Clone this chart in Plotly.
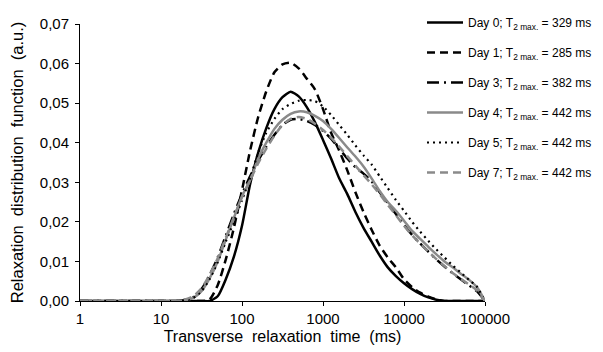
import plotly.graph_objects as go

# Transverse relaxation time (ms)
t_ms = [1, 10, 15.85, 19.95, 25.12, 31.62, 39.81, 50.12, 63.10, 79.43,
        100, 125.9, 158.5, 199.5, 251.2, 316.2, 398.1, 501.2, 631.0, 794.3,
        1000, 1259, 1585, 1995, 2512, 3162, 3981, 5012, 6310, 7943,
        10000, 12589, 15849, 19953, 25119, 31623, 39811, 50119, 63096, 79433, 100000]

day0 = [0, 0, 0, 0, 0, 0, 0, 0.0012, 0.0055, 0.0112,
        0.019, 0.0295, 0.0375, 0.0437, 0.0485, 0.0515, 0.0529, 0.0517, 0.049, 0.0452,
        0.0407, 0.036, 0.031, 0.027, 0.0225, 0.0185, 0.015, 0.0115, 0.0085, 0.0063,
        0.0045, 0.003, 0.0018, 0.0009, 0.0003, 0, 0, 0, 0, 0, 0]

day1 = [0, 0, 0, 0, 0, 0, 0.0004, 0.004, 0.0105, 0.0185,
        0.028, 0.038, 0.0465, 0.053, 0.0578, 0.0598, 0.0602, 0.0588, 0.0562, 0.0535,
        0.0485, 0.0425, 0.038, 0.033, 0.0275, 0.0225, 0.018, 0.014, 0.011, 0.0085,
        0.0055, 0.0035, 0.0021, 0.0011, 0.0004, 0, 0, 0, 0, 0, 0]

day3 = [0, 0, 0, 0.0003, 0.001, 0.003, 0.0065, 0.011, 0.0165, 0.022,
        0.027, 0.0315, 0.0355, 0.039, 0.042, 0.0445, 0.0458, 0.046, 0.0455, 0.0445,
        0.043, 0.041, 0.0385, 0.036, 0.0338, 0.0322, 0.0302, 0.0275, 0.0247, 0.022,
        0.0192, 0.0167, 0.0145, 0.0125, 0.0105, 0.0087, 0.007, 0.0055, 0.004, 0.0025, 0]

day4 = [0, 0, 0, 0.0002, 0.0008, 0.0025, 0.0057, 0.010, 0.0155, 0.021,
        0.0265, 0.0305, 0.036, 0.040, 0.0435, 0.0458, 0.0473, 0.0479, 0.0477, 0.0468,
        0.0455, 0.0435, 0.0412, 0.0388, 0.0365, 0.034, 0.031, 0.0278, 0.025, 0.0228,
        0.0203, 0.0177, 0.0157, 0.0137, 0.0118, 0.010, 0.0085, 0.0069, 0.0054, 0.0035, 0]

day5 = [0, 0, 0, 0.0002, 0.0008, 0.0025, 0.0055, 0.0098, 0.015, 0.020,
        0.0255, 0.031, 0.0375, 0.0425, 0.046, 0.0485, 0.0498, 0.0506, 0.0508, 0.0505,
        0.0492, 0.047, 0.0445, 0.042, 0.0393, 0.0368, 0.0345, 0.0315, 0.0285, 0.0255,
        0.0228, 0.020, 0.0175, 0.0152, 0.013, 0.011, 0.009, 0.0072, 0.0054, 0.0036, 0]

day7 = [0, 0, 0, 0.0004, 0.0012, 0.0032, 0.0066, 0.0108, 0.016, 0.0212,
        0.0262, 0.0305, 0.0348, 0.0385, 0.0418, 0.0445, 0.046, 0.0465, 0.046, 0.0448,
        0.0432, 0.0413, 0.039, 0.0366, 0.0342, 0.0318, 0.0295, 0.027, 0.0243, 0.0217,
        0.019, 0.0166, 0.0145, 0.0125, 0.0106, 0.0088, 0.0071, 0.0056, 0.0042, 0.0027, 0]

labels = ["Day 0; T<sub>2 max.</sub> = 329 ms",
          "Day 1; T<sub>2 max.</sub> = 285 ms",
          "Day 3; T<sub>2 max.</sub> = 382 ms",
          "Day 4; T<sub>2 max.</sub> = 442 ms",
          "Day 5; T<sub>2 max.</sub> = 442 ms",
          "Day 7; T<sub>2 max.</sub> = 442 ms"]

x_tickvals = [1, 10, 100, 1000, 10000, 100000]
x_ticktext = ["1", "10", "100", "1000", "10000", "100000"]

series = [day0, day1, day3, day4, day5, day7]
styles = [
    dict(color="black", width=2.5, dash="solid"),
    dict(color="black", width=2.5, dash="8px,5px"),
    dict(color="black", width=2.5, dash="12px,5px,2px,5px"),
    dict(color="#8a8a8a", width=2.5, dash="solid"),
    dict(color="black", width=2.2, dash="2px,4px"),
    dict(color="#8a8a8a", width=2.5, dash="8px,5px"),
]

fig = go.Figure()
for i, (ys, st, lab) in enumerate(zip(series, styles, labels)):
    fig.add_trace(go.Scatter(
        x=t_ms, y=ys, mode="lines", name=lab, legendgroup=f"g{i}",
        line=dict(shape="spline", smoothing=0.6, **st),
    ))

# page body adds an 8px offset; figure is sized to fit the 603x352 window
OFF = 8
W, H = 603 - OFF, 352 - OFF
FONT = "Liberation Sans, Arial, sans-serif"
fig.update_layout(
    width=W, height=H,
    margin=dict(l=0, r=0, t=0, b=0, autoexpand=False),
    paper_bgcolor="white", plot_bgcolor="white",
    separators=",.",
    font=dict(family=FONT, color="black", size=15),
    showlegend=True,
    legend=dict(
        x=(422 - OFF) / W, y=1.0, xanchor="left", yanchor="top",
        font=dict(size=12, family=FONT, color="black"),
        tracegroupgap=11, itemwidth=36, bgcolor="rgba(0,0,0,0)",
    ),
    xaxis=dict(
        domain=[(80 - OFF) / W, (485 - OFF) / W],
        type="log", range=[0, 5], tickvals=x_tickvals, ticktext=x_ticktext,
        showgrid=False, zeroline=False, showline=True, linecolor="black", linewidth=1,
        ticks="outside", ticklen=4, tickcolor="black",
        tickfont=dict(size=15),
        title=dict(text="Transverse  relaxation  time  (ms)", font=dict(size=16), standoff=4),
    ),
    yaxis=dict(
        domain=[1 - (301 - OFF) / H, 1 - (24 - OFF) / H],
        range=[0, 0.07], dtick=0.01, tickformat=".2f",
        showgrid=False, zeroline=False, showline=True, linecolor="black", linewidth=1,
        ticks="outside", ticklen=4, tickcolor="black", ticklabelstandoff=3,
        tickfont=dict(size=15),
        title=dict(text="Relaxation  distribution  function  (a.u.)", font=dict(size=16.5), standoff=14),
    ),
)

fig.write_html("out.html")
